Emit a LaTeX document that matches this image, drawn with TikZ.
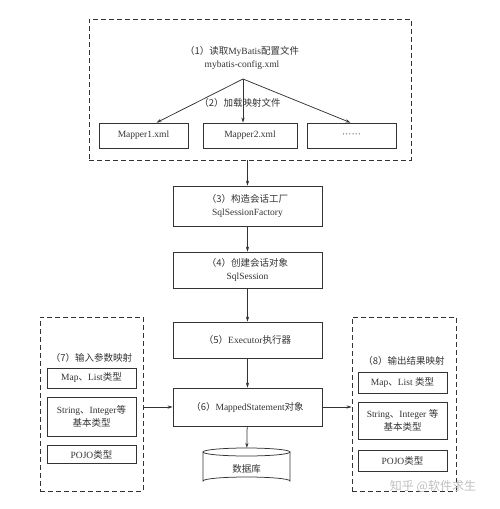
\documentclass[tikz,border=0pt]{standalone}
\usepackage{fontspec}
\setmainfont{Liberation Serif}
\newfontfamily\cjk{Noto Sans CJK SC}
\newcommand\zh[1]{{\cjk #1}}
\usetikzlibrary{arrows.meta,calc}
\definecolor{ink}{HTML}{333333}
\begin{document}
\begin{tikzpicture}[x=1pt,y=-1pt,
  every node/.style={font=\fontsize{9.5}{11.5}\selectfont, text=ink, align=center, inner sep=0pt},
  solidbox/.style={draw=ink, line width=0.75pt, rectangle},
  dashbox/.style={draw=ink, line width=0.85pt, dash pattern=on 5pt off 3pt, rectangle},
  conn/.style={draw=ink, line width=0.75pt, -{Stealth[length=5pt,width=3.2pt]}},
  plainline/.style={draw=ink, line width=0.75pt}]
\useasboundingbox (0,0) rectangle (500,509);
% top dashed group
\node[dashbox, minimum width=322pt, minimum height=141pt] (top) at (250,89.5) {};
\node (t1) at (242,58) {\zh{（1）读取}MyBatis\zh{配置文件}\\[1pt]mybatis-config.xml};
\coordinate (f) at (243,79);
\node[solidbox, minimum width=89pt, minimum height=25pt] (m1) at (143.5,135.5) {Mapper1.xml};
\node[solidbox, minimum width=94pt, minimum height=25pt] (m2) at (250,135.5) {Mapper2.xml};
\node[solidbox, minimum width=89pt, minimum height=25pt] (m3) at (351.5,135.5) {\textperiodcentered\textperiodcentered\textperiodcentered\textperiodcentered\textperiodcentered\textperiodcentered};
\node (t2) at (240,103) {\zh{（2）加载映射文件}};
\draw[conn] (f) -- ($(m1.north)+(13,0)$);
\draw[conn] (f) -- (f |- m2.north);
\draw[conn] (f) -- ($(m3.north)+(-1,0)$);
% central stack
\node[solidbox, minimum width=149pt, minimum height=40pt] (b3) at (247.5,206) {\zh{（3）构造会话工厂}\\[1pt]SqlSessionFactory};
\node[solidbox, minimum width=149pt, minimum height=36pt] (b4) at (247.5,270) {\zh{（4）创建会话对象}\\[1pt]SqlSession};
\node[solidbox, minimum width=149pt, minimum height=36pt] (b5) at (247.5,340) {\zh{（5）}Executor\zh{执行器}};
\node[solidbox, minimum width=149pt, minimum height=38pt] (b6) at (247.5,407) {\zh{（6）}MappedStatement\zh{对象}};
\node[minimum width=87pt, minimum height=37pt] (db) at (246.5,466.5) {};
\draw[plainline] (203,452) -- (203,481) arc[start angle=180, end angle=360, x radius=43.5, y radius=4] -- (290,452);
\draw[plainline] (246.5,452) ellipse[x radius=43.5, y radius=4];
\node at (246.5,469) {\zh{数据库}};
\draw[conn] (b3.north |- top.south) -- (b3.north);
\draw[conn] (b3) -- (b4);
\draw[conn] (b4) -- (b5);
\draw[conn] (b5) -- (b6);
\draw[conn] (b6) -- (db);
% left group
\node[dashbox, minimum width=103pt, minimum height=174pt] (L) at (91.5,404) {};
\node (lt) at (91.5,358) {\zh{（7）输入参数映射}};
\node[solidbox, minimum width=89pt, minimum height=20pt] (l1) at (91.5,378) {Map\zh{、}List\zh{类型}};
\node[solidbox, minimum width=89pt, minimum height=39pt] (l2) at (91.5,416.5) {String\zh{、}Integer\zh{等}\\[1pt]\zh{基本类型}};
\node[solidbox, minimum width=89pt, minimum height=18pt] (l3) at (91.5,454.5) {POJO\zh{类型}};
\draw[conn] (L.east |- b6) -- (b6.west);
% right group
\node[dashbox, minimum width=104pt, minimum height=174pt] (R) at (404,404) {};
\node (rt) at (404,361) {\zh{（8）输出结果映射}};
\node[solidbox, minimum width=89pt, minimum height=21pt] (r1) at (402.5,382.5) {Map\zh{、}List \zh{类型}};
\node[solidbox, minimum width=89pt, minimum height=37pt] (r2) at (402.5,420.5) {String\zh{、}Integer \zh{等}\\[1pt]\zh{基本类型}};
\node[solidbox, minimum width=89pt, minimum height=21pt] (r3) at (402.5,460.5) {POJO\zh{类型}};
\draw[conn] (b6.east) -- (R.west |- b6);
% watermark
\node[text=black!25, font=\fontsize{12}{14}\selectfont] (wm) at (433,486) {\zh{知乎 @软件求生}};
\end{tikzpicture}
\end{document}
